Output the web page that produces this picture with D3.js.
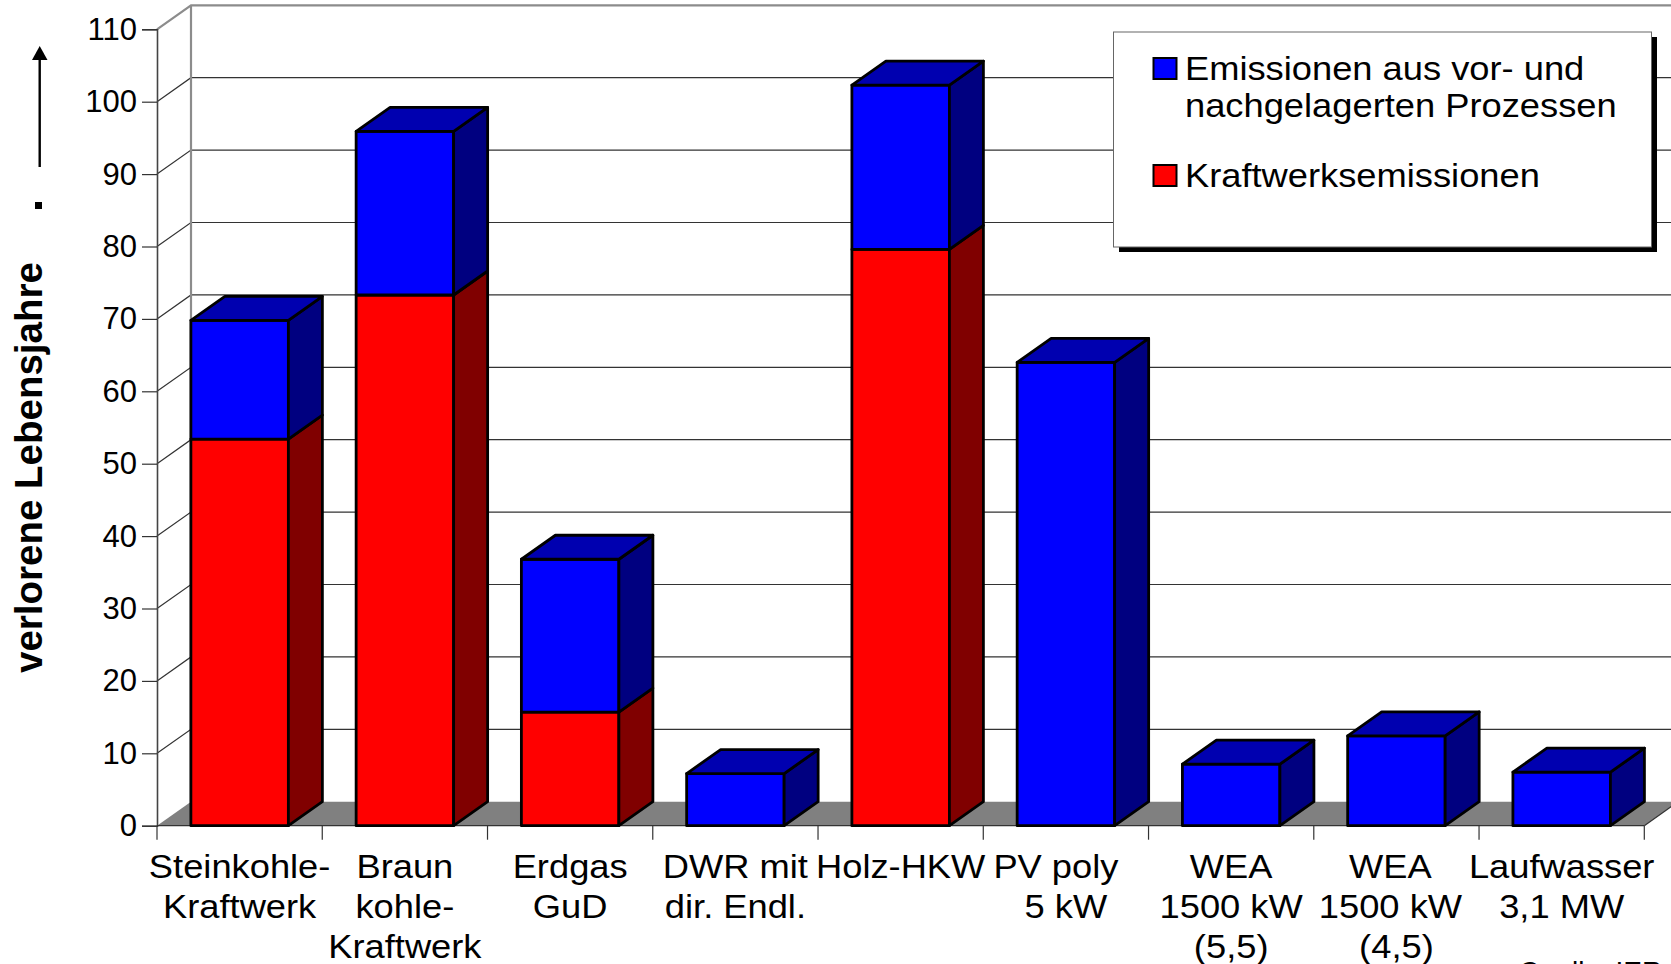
<!DOCTYPE html>
<html>
<head>
<meta charset="utf-8">
<script src="https://cdn.jsdelivr.net/npm/d3@7"></script>
<style>
html, body { margin: 0; padding: 0; background: #fff; overflow: hidden; }
text { font-family: "Liberation Sans", Arial, sans-serif; fill: #000; }
</style>
</head>
<body>
<div id="chart"></div>
<script>
const categories = ["Steinkohle", "Braunkohle", "Erdgas", "DWR", "Holz", "PV", "WEA55", "WEA45", "Lauf"];
const categoryLabels = [
    ["Steinkohle-", "Kraftwerk"],
    ["Braun", "kohle-", "Kraftwerk"],
    ["Erdgas", "GuD"],
    ["DWR mit", "dir. Endl."],
    ["Holz-HKW"],
    ["PV poly", "5 kW"],
    ["WEA", "1500 kW", "(5,5)"],
    ["WEA", "1500 kW", "(4,5)"],
    ["Laufwasser", "3,1 MW"]
];
const kraftwerk = [53.4, 73.3, 15.7, 0, 79.6, 0, 0, 0, 0];
const vorNach = [16.4, 22.6, 21.1, 7.2, 22.7, 64, 8.5, 12.4, 7.4];
const yTicks = [0, 10, 20, 30, 40, 50, 60, 70, 80, 90, 100, 110];
const legendItems = [
    { color: "#0000ff", lines: ["Emissionen aus vor- und", "nachgelagerten Prozessen"] },
    { color: "#ff0000", lines: ["Kraftwerksemissionen"] }
];

const width = 1671, height = 964;
const dx = 34, dy = -24;   // depth of the 3d box

const svg = d3.select("#chart").append("svg")
    .attr("width", width).attr("height", height);

const x = d3.scaleBand().domain(categories).range([157, 1644.3]).paddingInner(0.41).paddingOuter(0.205);
const y = d3.scaleLinear().domain([0, 110]).range([825.7, 29.3]);

// walls + floor
svg.append("polygon")
    .attr("points", [[x.range()[0], y(0)], [x.range()[0] + dx, y(0) + dy], [x.range()[1] + dx, y(0) + dy], [x.range()[1], y(0)]].join(" "))
    .attr("fill", "#808080");

// gridlines on back + side wall
const grid = svg.append("g").attr("fill", "none").attr("stroke", "#333").attr("stroke-width", 1.2);
yTicks.filter(d => d > 0 && d < 110).forEach(d => {
    grid.append("path").attr("d", `M157,${y(d)}l${dx},${dy}H${1644.3 + dx}`);
});

svg.append("path")
    .attr("d", `M157,${y(110)}l${dx},${dy}H${1644.3 + dx}M${157 + dx},${y(110) + dy}V${y(0) + dy}`)
    .attr("fill", "none").attr("stroke", "#8c8c8c").attr("stroke-width", 2.2);

// axes
const axisLeft = svg.append("g")
    .attr("transform", "translate(157,0)")
    .call(d3.axisLeft(y).tickValues(yTicks).tickSize(15).tickPadding(5));
axisLeft.select(".domain").attr("stroke", "#444").attr("stroke-width", 1.6);
axisLeft.selectAll(".tick line").attr("stroke", "#333").attr("stroke-width", 1.2);
axisLeft.selectAll(".tick text").style("font-size", "31px").style("font-family", "Liberation Sans");

const xEdges = d3.range(categories.length + 1).map(i => 157 + i * x.step());
const xAxisG = svg.append("g").attr("stroke", "#333").attr("stroke-width", 1.2);
xAxisG.append("line").attr("x1", 157).attr("x2", 1644.3).attr("y1", y(0)).attr("y2", y(0));
xAxisG.selectAll(".edge").data(xEdges).enter().append("line")
    .attr("class", "edge")
    .attr("x1", d => d).attr("x2", d => d)
    .attr("y1", y(0)).attr("y2", y(0) + 14);
svg.append("line").attr("x1", 1644.3).attr("y1", y(0)).attr("x2", 1644.3 + dx).attr("y2", y(0) + dy)
    .attr("stroke", "#333").attr("stroke-width", 1.2);

// one segment of a stacked 3d bar
function drawBox(g, left, w, y0, y1, front, top, side, withTop) {
    g.append("rect").attr("x", left).attr("y", y1).attr("width", w).attr("height", y0 - y1).attr("fill", front);
    g.append("polygon")
        .attr("points", [[left + w, y0], [left + w + dx, y0 + dy], [left + w + dx, y1 + dy], [left + w, y1]].join(" "))
        .attr("fill", side);
    if (withTop) {
        g.append("polygon")
            .attr("points", [[left, y1], [left + dx, y1 + dy], [left + w + dx, y1 + dy], [left + w, y1]].join(" "))
            .attr("fill", top);
    }
}

const bars = svg.append("g")
    .attr("stroke", "#000").attr("stroke-width", 2.8).attr("stroke-linejoin", "round");

categories.forEach((c, i) => {
    const g = bars.append("g");
    const left = x(c), w = x.bandwidth();
    const red = kraftwerk[i], blue = vorNach[i];
    if (red > 0) drawBox(g, left, w, y(0), y(red), "#ff0000", "#b00000", "#800000", false);
    drawBox(g, left, w, y(red), y(red + blue), "#0000ff", "#0000b0", "#000080", true);
});

// x labels, a few lines sit off centre in the original
const xLabels = svg.append("g").attr("text-anchor", "middle").style("font-size", "33px");
const labelShift = { "PV poly": -10, "WEA|7": -6, "1500 kW|7": -6 };
categoryLabels.forEach((lines, i) => {
    const cx = x(categories[i]) + x.bandwidth() / 2;
    lines.forEach((t, j) => {
        const shift = labelShift[t] || labelShift[t + "|" + i] || 0;
        xLabels.append("text")
            .attr("transform", `translate(${cx + shift},${878 + j * 40}) scale(1.1,1)`)
            .text(t);
    });
});

// y title and arrow
svg.append("text")
    .attr("transform", "translate(42,673) rotate(-90)")
    .style("font-size", "38.5px").style("font-weight", "bold")
    .text("verlorene Lebensjahre");
svg.append("rect").attr("x", 35).attr("y", 202).attr("width", 7).attr("height", 7).attr("fill", "#000");
svg.append("line").attr("x1", 39.7).attr("x2", 39.7).attr("y1", 167).attr("y2", 58)
    .attr("stroke", "#000").attr("stroke-width", 2.4);
svg.append("polygon").attr("points", "39.7,46 32,60 47.5,60").attr("fill", "#000");

// legend
svg.append("rect").attr("x", 1119).attr("y", 37).attr("width", 538).attr("height", 215).attr("fill", "#000");
svg.append("rect").attr("x", 1113.5).attr("y", 32).attr("width", 538).attr("height", 215)
    .attr("fill", "#fff").attr("stroke", "#666").attr("stroke-width", 1);
const legend = svg.append("g");
const legendY = [69, 176];
legendItems.forEach((item, i) => {
    legend.append("rect").attr("x", 1153.5).attr("y", legendY[i] - 11).attr("width", 23).attr("height", 21)
        .attr("fill", item.color).attr("stroke", "#000").attr("stroke-width", 2);
    item.lines.forEach((t, j) => {
        legend.append("text")
            .attr("transform", `translate(1185,${legendY[i] + 11 + j * 37}) scale(1.1,1)`)
            .style("font-size", "33px").text(t);
    });
});

// source note, cut off by the page edge
svg.append("text").attr("x", 1519).attr("y", 981).style("font-size", "28px").text("Quelle: IER");
</script>
</body>
</html>
